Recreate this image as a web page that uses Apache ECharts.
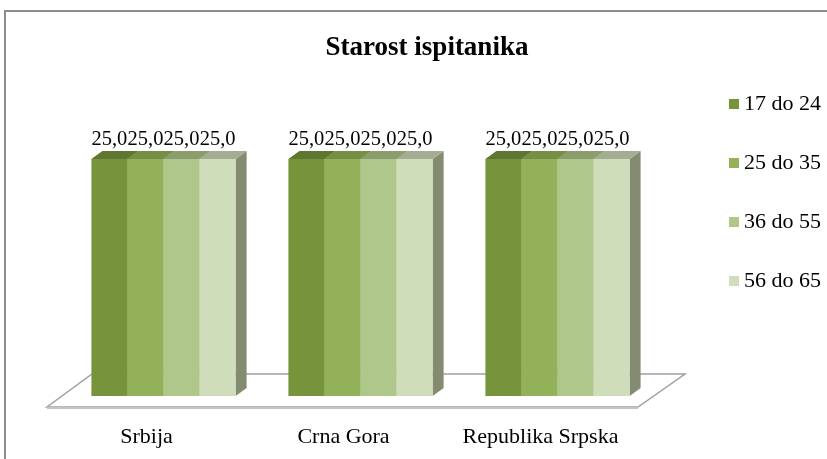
<!DOCTYPE html>
<html>
<head>
<meta charset="utf-8">
<title>Starost ispitanika</title>
<script src="https://cdn.jsdelivr.net/npm/echarts@6/dist/echarts.min.js"></script>
<style>html,body{margin:0;padding:0;background:#fff}</style>
</head>
<body>
<div id="main" style="width:827px;height:459px;"></div>
<script type="text/javascript">
// podaci
var categories = ['Srbija', 'Crna Gora', 'Republika Srpska'];
var seriesNames = ['17 do 24', '25 do 35', '36 do 55', '56 do 65'];
var values = [
    [25.0, 25.0, 25.0],   // 17 do 24
    [25.0, 25.0, 25.0],   // 25 do 35
    [25.0, 25.0, 25.0],   // 36 do 55
    [25.0, 25.0, 25.0]    // 56 do 65
];

var frontColors = ['#77933c', '#93b159', '#afc78b', '#d0ddbb'];
var topColors = ['#5f7630', '#778f44', '#8c9d6d', '#a4ad93'];
var sideColor = '#838b71';
var DX = 11, DY = 8;   // "3D" pomak

var myChart = echarts.init(document.getElementById('main'));

function barRenderer(idx) {
    return function (params, api) {
        var cat = api.value(0), v = api.value(1);
        var base = api.coord([cat, 0]);
        var top = api.coord([cat, v]);
        var band = api.size([1, 0])[0];
        var w = band * 0.183;
        var x0 = base[0] - 2 * w + idx * w;
        var x1 = x0 + w;
        var yb = base[1], yt = top[1];
        var lbl = v.toFixed(1).replace('.', ',');
        return {
            type: 'group',
            children: [
                { type: 'polygon', shape: { points: [[x1, yt], [x1 + DX, yt - DY], [x1 + DX, yb - DY], [x1, yb]] },
                  style: { fill: idx === 3 ? sideColor : topColors[idx] } },
                { type: 'rect', shape: { x: x0, y: yt, width: w, height: yb - yt }, style: { fill: frontColors[idx] } },
                { type: 'polygon', shape: { points: [[x0, yt], [x0 + DX, yt - DY], [x1 + DX, yt - DY], [x1, yt]] },
                  style: { fill: topColors[idx] } },
                { type: 'text', x: (x0 + x1) / 2, y: yt - DY - 1,
                  style: { text: lbl, textAlign: 'center', textVerticalAlign: 'bottom', align: 'center', verticalAlign: 'bottom',
                           font: '20.5px "Liberation Serif"', fill: '#000' } }
            ]
        };
    };
}

function floorRenderer(params, api) {
    var band = api.size([1, 0])[0];
    var p0 = api.coord([0, 0]);
    var p2 = api.coord([categories.length - 1, 0]);
    var xl = p0[0] - band / 2, xr = p2[0] + band / 2, y = p0[1];
    return {
        type: 'group',
        children: [
            { type: 'polygon', shape: { points: [[xl - 18, y + 11], [xr - 18, y + 11], [xr + 29, y - 22], [xl + 27, y - 22]] },
              style: { fill: '#fff', stroke: '#a0a0a0', lineWidth: 1.5 } },
            { type: 'line', shape: { x1: xl - 18, y1: y + 12, x2: xr - 18, y2: y + 12 },
              style: { stroke: '#c4c4c4', lineWidth: 2 } }
        ]
    };
}

var series = [{
    name: 'pod',
    type: 'custom',
    renderItem: floorRenderer,
    silent: true,
    data: [[0, 0]],
    z: 1
}];
seriesNames.forEach(function (name, i) {
    series.push({
        name: name,
        type: 'custom',
        renderItem: barRenderer(i),
        itemStyle: { color: frontColors[i] },
        data: values[i].map(function (v, j) { return [j, v]; }),
        z: 2 + i
    });
});

var option = {
    backgroundColor: '#fff',
    animation: false,
    graphic: [{
        type: 'rect',
        shape: { x: 5, y: 11, width: 900, height: 600 },
        style: { fill: 'none', stroke: '#8c8c8c', lineWidth: 2 },
        silent: true
    }],
    title: {
        text: 'Starost ispitanika',
        left: 422,
        textAlign: 'center',
        top: 30,
        textStyle: { fontFamily: 'Liberation Serif', fontWeight: 'bold', fontSize: 27, color: '#000' }
    },
    legend: {
        data: seriesNames,
        orient: 'vertical',
        left: 724,
        top: 88,
        itemWidth: 10,
        itemHeight: 10,
        itemGap: 37,
        icon: 'rect',
        textStyle: { fontFamily: 'Liberation Serif', fontSize: 22, lineHeight: 22, color: '#000' }
    },
    grid: { left: 65, width: 591, top: 159, height: 237 },
    xAxis: {
        type: 'category',
        data: categories,
        axisLine: { show: false },
        axisTick: { show: false },
        splitLine: { show: false },
        axisLabel: {
            interval: 0,
            margin: 30,
            padding: [0, 34, 0, 0],
            fontFamily: 'Liberation Serif',
            fontSize: 22,
            color: '#000'
        }
    },
    yAxis: {
        type: 'value',
        min: 0,
        max: 25,
        show: false
    },
    series: series
};

myChart.setOption(option);
</script>
</body>
</html>
